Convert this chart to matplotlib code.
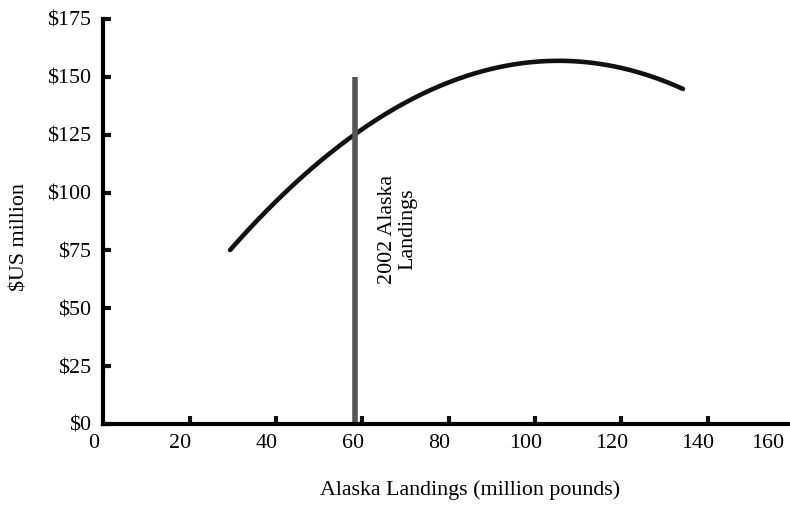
import matplotlib
matplotlib.use("Agg")
import matplotlib.pyplot as plt
import numpy as np

# Data
landings = [31.6, 40.9, 48.5, 60.5, 75.6, 91.1, 106.4, 121.9, 136.5]
revenue = [75.2, 93.8, 106.7, 126.2, 141.3, 153.0, 157.3, 153.8, 144.8]
landings_2002 = 60.5
line_top = 150
x_ticks = [0, 20, 40, 60, 80, 100, 120, 140, 160]
y_ticks = [0, 25, 50, 75, 100, 125, 150, 175]
y_labels = ["$0", "$25", "$50", "$75", "$100", "$125", "$150", "$175"]
axis_origin = 2.2

plt.rcParams['font.family'] = ['Liberation Serif', 'DejaVu Serif']
FS = 15.8

W, H = 790, 517
fig = plt.figure(figsize=(W / 100, H / 100), dpi=100)
px_per_x = 4.317
left_px, bottom_px, top_px = 93.7, 424, 19
xmax = (W - left_px) / px_per_x
ax = fig.add_axes([left_px / W, (H - bottom_px) / H, 1 - left_px / W, (bottom_px - top_px) / H])
ax.set_xlim(0, xmax)
ax.set_ylim(0, 175)

# smooth curve through the read points
coef = np.polyfit(landings, revenue, 3)
xs = np.linspace(landings[0], landings[-1], 200)
ax.plot(xs, np.polyval(coef, xs), color='#111111', lw=3.3, solid_capstyle='round', clip_on=False)

# 2002 landings line
ax.plot([landings_2002, landings_2002], [0, line_top], color='#555555', lw=4.0, solid_capstyle='butt')
ax.text(landings_2002 + 9.9, 84, "2002 Alaska\nLandings", rotation=90, ha='center', va='center',
        fontsize=FS, linespacing=1.15)

for s in ['top', 'right']:
    ax.spines[s].set_visible(False)
ax.spines['left'].set_position(('data', axis_origin))
ax.spines['left'].set_linewidth(3)
ax.spines['bottom'].set_linewidth(3)
ax.spines['bottom'].set_bounds(axis_origin, xmax)
ax.spines['left'].set_capstyle('projecting')
ax.spines['bottom'].set_capstyle('projecting')

ax.set_xticks(x_ticks)
ax.set_xticklabels([str(v) for v in x_ticks])
ax.tick_params(axis='x', which='major', length=0, pad=7, labelsize=FS)
ax.get_xticklabels()[-1].set_horizontalalignment('right')
ax.set_xticks([axis_origin + v for v in x_ticks[1:8]], minor=True)
ax.tick_params(axis='x', which='minor', direction='in', length=6, width=3, color='#111111')

ax.set_yticks(y_ticks)
ax.set_yticklabels(y_labels)
ax.tick_params(axis='y', which='major', direction='in', length=6, width=3, pad=9, labelsize=FS, color='#111111')

fig.text(470 / W, 1 - 490 / H, "Alaska Landings (million pounds)", ha='center', va='center', fontsize=FS)
fig.text(20 / W, 1 - 237 / H, "$US million", ha='center', va='center', rotation=90, fontsize=FS)

fig.savefig("out.png", dpi=100)
